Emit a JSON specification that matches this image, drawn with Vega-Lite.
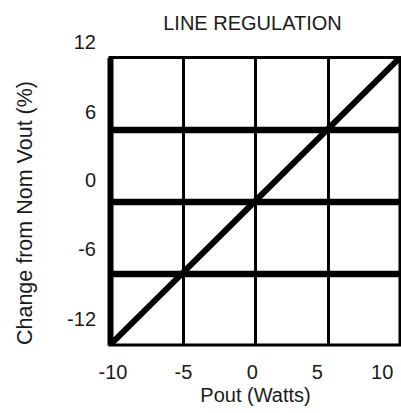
{
  "$schema": "https://vega.github.io/schema/vega-lite/v6.json",
  "width": 290,
  "height": 287.5,
  "autosize": "none",
  "padding": {"left": 110, "top": 57.5, "right": 1, "bottom": 68},
  "background": "white",
  "config": {
    "view": {"stroke": "black", "strokeWidth": 3},
    "font": "Liberation Sans"
  },
  "title": {
    "text": "LINE REGULATION",
    "fontSize": 20,
    "fontWeight": "normal",
    "color": "#1a1a1a",
    "anchor": "middle",
    "frame": "group",
    "baseline": "alphabetic",
    "offset": -17.7,
    "dx": -2.5
  },
  "data": {
    "values": [
      {"pout": -10, "change": -12},
      {"pout": -5, "change": -6},
      {"pout": 0, "change": 0},
      {"pout": 5, "change": 6},
      {"pout": 10, "change": 12}
    ]
  },
  "mark": {"type": "line", "color": "black", "strokeWidth": 6, "clip": true},
  "encoding": {
    "x": {
      "field": "pout",
      "type": "quantitative",
      "scale": {"domain": [-10, 10], "nice": false, "zero": false},
      "axis": {
        "values": [-10, -5, 0, 5, 10],
        "labelExpr": "datum.value + ''",
        "title": "Pout (Watts)",
        "grid": true,
        "gridColor": "black",
        "gridOpacity": 1,
        "gridWidth": {"condition": {"test": "abs(datum.value) == 10", "value": 0}, "value": 3},
        "domain": false,
        "ticks": false,
        "tickSize": 0,
        "labelFontSize": 20,
        "labelColor": "#1a1a1a",
        "labelBaseline": "alphabetic",
        "labelPadding": 33,
        "labelFlush": false,
        "labelOverlap": false,
        "labelOffset": {
          "condition": [
            {"test": "datum.value == -10", "value": 2.5},
            {"test": "datum.value == -5", "value": 0.5},
            {"test": "datum.value == 0", "value": -3.3},
            {"test": "datum.value == 5", "value": -10.8}
          ],
          "value": -18.3
        },
        "titleFontSize": 20,
        "titleFontWeight": "normal",
        "titleColor": "#1a1a1a",
        "titleBaseline": "alphabetic",
        "titleY": 56.7,
        "titlePadding": 0
      }
    },
    "y": {
      "field": "change",
      "type": "quantitative",
      "scale": {"domain": [-12, 12], "nice": false, "zero": false},
      "axis": {
        "values": [-12, -6, 0, 6, 12],
        "labelExpr": "datum.value + ''",
        "title": "Change from Nom Vout (%)",
        "grid": true,
        "gridColor": "black",
        "gridOpacity": 1,
        "gridWidth": {"condition": {"test": "abs(datum.value) == 12", "value": 0}, "value": 6.5},
        "domain": true,
        "domainColor": "black",
        "domainWidth": 6,
        "ticks": false,
        "tickSize": 0,
        "labelFontSize": 20,
        "labelColor": "#1a1a1a",
        "labelBaseline": "alphabetic",
        "labelAlign": "right",
        "labelPadding": 14.5,
        "labelFlush": false,
        "labelOverlap": false,
        "labelOffset": {
          "condition": [
            {"test": "datum.value == 12", "value": -9.2},
            {"test": "datum.value == 6", "value": -11.1},
            {"test": "datum.value == 0", "value": -14.5},
            {"test": "datum.value == -6", "value": -18.1}
          ],
          "value": -20
        },
        "titleFontSize": 21.5,
        "titleFontWeight": "normal",
        "titleColor": "#1a1a1a",
        "titleBaseline": "alphabetic",
        "titleAngle": -90,
        "titleX": -79,
        "titleY": 155,
        "titlePadding": 0
      }
    }
  }
}
